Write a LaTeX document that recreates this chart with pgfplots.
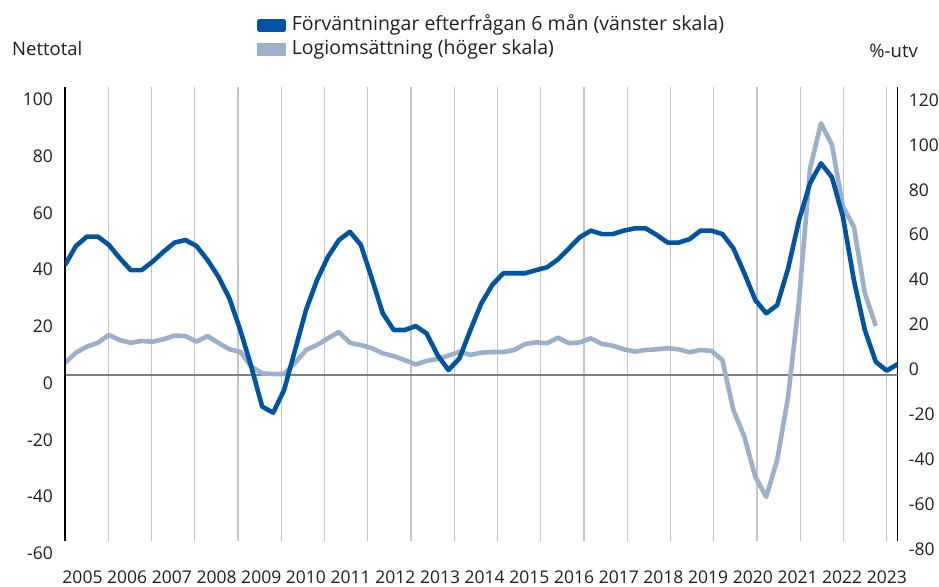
\documentclass[border=0pt]{standalone}
\usepackage{pgfplots}
\pgfplotsset{compat=1.18}
\usepackage{fontspec}
\setmainfont{Open Sans}
\definecolor{cblue}{RGB}{0,84,164}
\definecolor{cgray}{RGB}{155,176,203}
\definecolor{cgrid}{RGB}{196,196,204}
\definecolor{czero}{RGB}{128,128,128}
\definecolor{ctext}{RGB}{30,30,30}
\newcommand{\lblfont}{\fontsize{17.5}{21}\selectfont}
\newcommand{\legfont}{\fontsize{19.5}{23}\selectfont}
\newcommand{\ttlfont}{\fontsize{18.5}{22}\selectfont}

\pgfplotstableread{
k v
0 37.2
1 43.9
2 47.2
3 47.2
4 44.3
5 39.6
6 35.4
7 35.4
8 38.4
9 41.9
10 45.1
11 46.0
12 43.9
13 39.0
14 33.1
15 25.5
16 14.3
17 1.4
18 -12.7
19 -14.8
20 -6.8
21 7.3
22 21.4
23 31.9
24 40.1
25 46.0
26 48.9
27 44.3
28 32.5
29 20.2
30 14.3
31 14.3
32 15.7
33 13.1
34 5.5
35 0.2
36 4.3
37 14.3
38 23.7
39 30.2
40 34.3
41 34.3
42 34.3
43 35.4
44 36.4
45 39.2
46 43.1
47 47.0
48 49.3
49 48.1
50 48.1
51 49.3
52 50.1
53 50.1
54 47.8
55 45.1
56 45.1
57 46.3
58 49.3
59 49.3
60 48.1
61 43.1
62 34.3
63 24.9
64 20.2
65 23.1
66 36.0
67 53.1
68 66.0
69 73.0
70 68.1
71 54.2
72 31.9
73 14.3
74 3.1
75 0.0
76 2.3
}\bluedata

\pgfplotstableread{
k v
0 -2.4
1 2.1
2 4.8
3 6.5
4 10.0
5 7.7
6 6.5
7 7.3
8 7.0
9 8.1
10 9.7
11 9.5
12 7.0
13 9.5
14 6.5
15 3.6
16 2.5
17 -4.1
18 -7.1
19 -7.4
20 -7.4
21 -2.4
22 3.3
23 5.5
24 8.5
25 11.3
26 6.5
27 5.5
28 4.1
29 1.8
30 0.6
31 -1.2
32 -3.1
33 -1.6
34 -0.7
35 0.8
36 2.5
37 1.1
38 2.1
39 2.4
40 2.4
41 3.3
42 6.0
43 6.7
44 6.3
45 8.8
46 6.3
47 6.7
48 8.5
49 6.0
50 5.2
51 3.6
52 2.6
53 3.3
54 3.6
55 4.1
56 3.6
57 2.3
58 3.3
59 2.9
60 -1.2
61 -23.4
62 -35.3
63 -53.1
64 -62.1
65 -45.7
66 -17.5
67 25.6
68 84.2
69 104.3
70 94.6
71 67.1
72 58.2
73 28.6
74 14.0
}\graydata

\begin{document}
\begin{tikzpicture}[x=1pt,y=1pt]
\useasboundingbox (0,0) rectangle (939,586);
% right scale axis (grey series, grid, year labels)
\begin{axis}[
  at={(65pt,45pt)}, anchor=south west,
  scale only axis, width=832.7pt, height=454.3pt,
  xmin=0, xmax=76, ymin=-81.78, ymax=120.58,
  axis y line*=right, axis x line*=bottom,
  x axis line style={draw=none},
  y axis line style={draw=black, line width=1.3pt, -},
  major tick length=0pt,
  xtick={3.947,7.894,11.842,15.789,19.736,23.683,27.630,31.578,35.525,39.472,43.419,47.366,51.314,55.261,59.208,63.155,67.102,71.050,74.997},
  xticklabels={},
  xmajorgrids,
  major x grid style={cgrid, line width=1.3pt},
  extra x ticks={1.597,5.676,9.755,13.833,17.912,21.991,26.069,30.148,34.227,38.305,42.384,46.463,50.541,54.620,58.699,62.777,66.856,70.935,75.013},
  extra x tick labels={2005,2006,2007,2008,2009,2010,2011,2012,2013,2014,2015,2016,2017,2018,2019,2020,2021,2022,2023},
  extra x tick style={grid=none},
  xticklabel style={anchor=center, yshift=-36pt, font=\lblfont, text=ctext},
  ytick={-80,-60,-40,-20,0,20,40,60,80,100,120},
  yticklabels={-80,-60,-40,-20,0,20,40,60,80,100,120},
  yticklabel style={anchor=west, inner sep=0pt, xshift=11pt, yshift=-12pt, font=\lblfont, text=ctext},
]
\draw[czero, line width=1.6pt] (axis cs:0,-7.97) -- (axis cs:76,-7.97);
\addplot[cgray, line width=4.6pt, line join=round] table[x=k,y=v] {\graydata};
\end{axis}
% left scale axis (blue series, legend)
\begin{axis}[
  at={(65pt,45pt)}, anchor=south west,
  scale only axis, width=832.7pt, height=454.3pt,
  xmin=0, xmax=76, ymin=-60, ymax=100,
  hide x axis,
  axis y line*=left,
  y axis line style={draw=black, line width=1.3pt, -},
  major tick length=0pt,
  ytick={-60,-40,-20,0,20,40,60,80,100},
  yticklabels={-60,-40,-20,0,20,40,60,80,100},
  yticklabel style={anchor=east, inner sep=0pt, xshift=-12pt, yshift=-12.5pt, font=\lblfont, text=ctext},
  legend image code/.code={\fill[#1] (0pt,-4.15pt) rectangle (24pt,4.15pt);},
  legend cell align=left,
  legend style={at={(axis description cs:0.2306,1.16)}, anchor=north west, draw=none, fill=none,
    inner sep=0pt, row sep=1.5pt, font=\legfont, text=ctext,
    nodes={inner sep=2pt, text height=14pt, text depth=4.5pt},
    /tikz/every odd column/.append style={column sep=4pt}},
]
\addplot[cblue, line width=4.6pt, line join=round] table[x=k,y=v] {\bluedata};
\addlegendentry{Förväntningar efterfrågan 6 mån (vänster skala)}
\addlegendimage{cgray, line width=4.6pt}
\addlegendentry{Logiomsättning (höger skala)}
\end{axis}
\node[anchor=west, inner sep=0pt, font=\ttlfont, text=ctext] at (12,537) {Nettotal};
\node[anchor=east, inner sep=0pt, font=\ttlfont, text=ctext] at (918,535) {\%-utv};
\end{tikzpicture}
\end{document}
